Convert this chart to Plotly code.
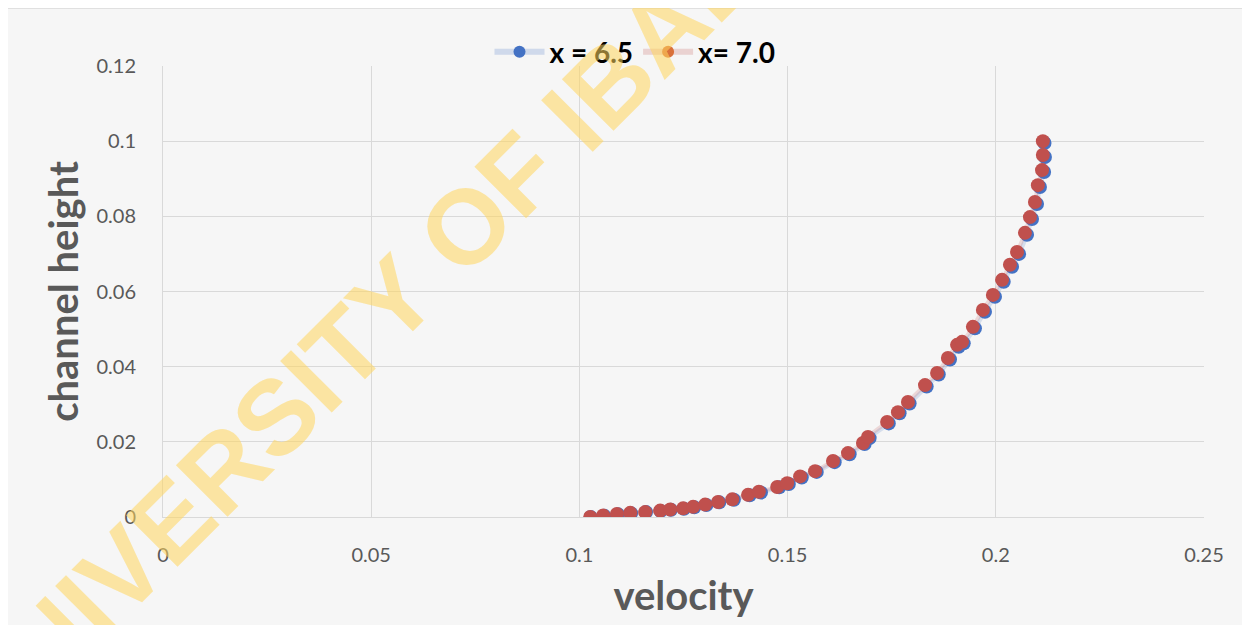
import plotly.graph_objects as go

# ---- data ----
series_names = ["x = 6.5", "x= 7.0"]

velocity_x65 = [0.1027, 0.1060, 0.1093, 0.1124, 0.1160, 0.1195, 0.1220, 0.1251, 0.1276, 0.1305,
                0.1336, 0.1371, 0.1409, 0.1436, 0.1480, 0.1503, 0.1534, 0.1570, 0.1613, 0.1649,
                0.1685, 0.1697, 0.1743, 0.1769, 0.1793, 0.1834, 0.1863, 0.1890, 0.1911, 0.1923,
                0.1950, 0.1974, 0.1998, 0.2019, 0.2039, 0.2056, 0.2075, 0.2087, 0.2099, 0.2106,
                0.2116, 0.2118, 0.2117]
height_x65 = [0.0000, 0.0003, 0.0007, 0.0010, 0.0013, 0.0016, 0.0019, 0.0022, 0.0026, 0.0032,
              0.0039, 0.0046, 0.0058, 0.0065, 0.0079, 0.0088, 0.0105, 0.0120, 0.0146, 0.0167,
              0.0194, 0.0210, 0.0249, 0.0276, 0.0302, 0.0347, 0.0379, 0.0419, 0.0453, 0.0462,
              0.0502, 0.0546, 0.0586, 0.0626, 0.0666, 0.0700, 0.0751, 0.0793, 0.0833, 0.0878,
              0.0918, 0.0958, 0.0995]

velocity_x70 = [0.1026, 0.1057, 0.1090, 0.1122, 0.1158, 0.1194, 0.1218, 0.1249, 0.1273, 0.1302,
                0.1333, 0.1367, 0.1405, 0.1431, 0.1475, 0.1499, 0.1530, 0.1566, 0.1609, 0.1645,
                0.1681, 0.1693, 0.1739, 0.1765, 0.1789, 0.1830, 0.1859, 0.1885, 0.1907, 0.1919,
                0.1945, 0.1969, 0.1993, 0.2015, 0.2034, 0.2051, 0.2070, 0.2082, 0.2094, 0.2101,
                0.2111, 0.2113, 0.2113]
height_x70 = [0.0000, 0.0004, 0.0008, 0.0011, 0.0013, 0.0017, 0.0020, 0.0023, 0.0027, 0.0033,
              0.0040, 0.0047, 0.0059, 0.0067, 0.0080, 0.0090, 0.0108, 0.0122, 0.0149, 0.0170,
              0.0197, 0.0213, 0.0253, 0.0279, 0.0306, 0.0351, 0.0383, 0.0423, 0.0458, 0.0466,
              0.0506, 0.0551, 0.0591, 0.0631, 0.0671, 0.0705, 0.0756, 0.0798, 0.0838, 0.0883,
              0.0923, 0.0963, 0.1000]

x_ticks = [0, 0.05, 0.1, 0.15, 0.2, 0.25]
y_ticks = [0, 0.02, 0.04, 0.06, 0.08, 0.1, 0.12]
x_tick_labels = ["0", "0.05", "0.1", "0.15", "0.2", "0.25"]
y_tick_labels = ["0", "0.02", "0.04", "0.06", "0.08", "0.1", "0.12"]

BLUE = "#4472C4"
RED = "#C0504D"
ORANGE = "#D9703A"
GRAY = "#595959"
FONT = "Lato, 'Open Sans', sans-serif"

# page has an 8px body margin; plot area targets (page px): left 163, right 1204, top 66, bottom 517
OFF = 8
W, H = 1250 - OFF, 625 - OFF
L, T = 163 - OFF, 66 - OFF
R = W - (1204 - OFF)
B = H - (517 - OFF)
PW, PH = 1204 - 163, 517 - 66


def px_x(p):
    return (p - 163) / PW


def px_y(p):
    return (517 - p) / PH


fig = go.Figure()

# plotted series
fig.add_trace(go.Scatter(
    x=velocity_x65, y=height_x65, mode="lines+markers", name=series_names[0],
    line=dict(color="rgba(68,114,196,0.18)", width=4, shape="spline"),
    marker=dict(color=BLUE, size=14), showlegend=False))
fig.add_trace(go.Scatter(
    x=velocity_x70, y=height_x70, mode="lines+markers", name=series_names[1],
    line=dict(color="rgba(192,80,77,0.18)", width=4, shape="spline"),
    marker=dict(color=RED, size=14), showlegend=False))

# legend entries
fig.add_trace(go.Scatter(
    x=[None], y=[None], mode="lines+markers", name=series_names[0],
    line=dict(color="rgba(68,114,196,0.22)", width=6),
    marker=dict(color=BLUE, size=12)))
fig.add_trace(go.Scatter(
    x=[None], y=[None], mode="lines+markers", name=series_names[1],
    line=dict(color="rgba(192,80,77,0.22)", width=6),
    marker=dict(color=ORANGE, size=12)))

# chart-area background & border
fig.add_shape(type="rect", xref="paper", yref="paper",
              x0=px_x(7), x1=px_x(1262), y0=px_y(640), y1=px_y(8),
              line=dict(color="#d9d9d9", width=1.5), fillcolor="#f6f6f6", layer="below")

# watermark
fig.add_annotation(text="<b>UNIVERSITY OF IBADAN</b>", xref="paper", yref="paper",
                   x=px_x(410), y=px_y(282), xanchor="center", yanchor="middle",
                   showarrow=False, textangle=-45,
                   font=dict(family="'Liberation Sans', Arial, sans-serif",
                             size=106, color="rgba(255,214,92,0.55)"))

fig.update_layout(
    width=W, height=H,
    margin=dict(l=L, r=R, t=T, b=B),
    paper_bgcolor="white",
    plot_bgcolor="rgba(255,255,255,0.35)",
    font=dict(family=FONT, color=GRAY),
    legend=dict(orientation="h", x=px_x(635), y=px_y(52),
                xanchor="center", yanchor="middle", bgcolor="rgba(0,0,0,0)",
                font=dict(family=FONT, size=28, color="#000000", weight="bold"),
                itemwidth=50),
    xaxis=dict(range=[0, 0.25], tickvals=x_ticks, ticktext=x_tick_labels,
               showgrid=True, gridcolor="#d9d9d9", gridwidth=1, zeroline=False,
               showline=True, linecolor="#d9d9d9", linewidth=1,
               ticks="outside", ticklen=20, tickcolor="rgba(0,0,0,0)",
               tickfont=dict(size=20, color=GRAY),
               title=dict(text="<b>velocity</b>", font=dict(size=40, color=GRAY), standoff=16)),
    yaxis=dict(range=[0, 0.12], tickvals=y_ticks, ticktext=y_tick_labels,
               showgrid=True, gridcolor="#d9d9d9", gridwidth=1, zeroline=False,
               showline=True, linecolor="#d9d9d9", linewidth=1,
               ticks="outside", ticklen=22, tickcolor="rgba(0,0,0,0)",
               tickfont=dict(size=20, color=GRAY),
               title=dict(text="<b>channel height</b>", font=dict(size=40, color=GRAY), standoff=5)),
)

fig.write_html("out.html")
